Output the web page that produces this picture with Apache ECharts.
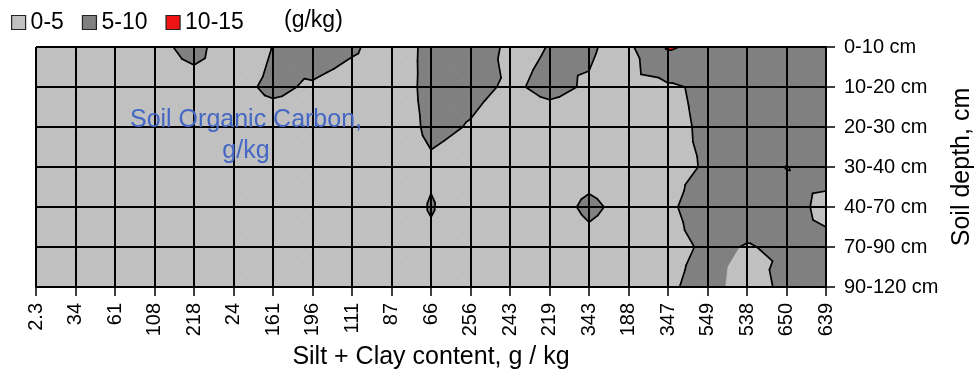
<!DOCTYPE html>
<html><head><meta charset="utf-8">
<script src="https://cdn.jsdelivr.net/npm/echarts@6/dist/echarts.min.js"></script>
<style>html,body{margin:0;padding:0;background:#fff}#c{width:974px;height:372px}</style>
</head><body><div id="c"></div>
<script>
// Categories
const xCategories = ['2.3','34','61','108','218','24','161','196','111','87','66','256','243','219','343','188','347','549','538','650','639'];
const depthCategories = ['0-10 cm','10-20 cm','20-30 cm','30-40 cm','40-70 cm','70-90 cm','90-120 cm'];
// Soil organic carbon (g/kg) at each depth, per silt+clay category
const soc_0_10   = [3.5,3.5,3.5,4.1,6.0,3.0,5.05,7.0,5.5,3.3,5.84,6.5,4.5,5.05,5.27,4.1,10.5,8.7,7.0,7.0,7.0];
const soc_10_20  = [3.5,3.5,3.5,3.5,3.78,4.1,5.6,4.6,3.5,3.5,5.8,5.52,4.74,5.4,4.82,3.8,4.39,5.81,7.0,7.0,7.0];
const soc_20_30  = [3.5,3.5,3.5,3.5,3.5,3.5,3.5,3.5,3.5,3.5,5.53,4.87,4.0,4.15,4.0,3.8,4.0,5.64,7.0,7.0,7.0];
const soc_30_40  = [3.5,3.5,3.5,3.5,3.5,3.5,3.5,3.5,3.5,3.5,4.6,4.0,3.8,3.8,4.19,3.8,4.2,5.25,6.5,4.95,5.75];
const soc_40_70  = [3.5,3.5,3.5,3.5,3.5,3.5,3.5,3.5,3.5,3.2,5.2,3.2,3.5,4.11,5.4,4.35,4.5,6.5,5.9,5.75,4.5];
const soc_70_90  = [3.5,3.5,3.5,3.5,3.5,3.5,3.5,3.5,3.5,3.5,4.4,3.5,3.5,3.5,4.35,3.8,4.2,5.4,4.9,5.3,5.5];
const soc_90_120 = [3.5,3.5,3.5,3.5,3.5,3.5,3.5,3.5,3.5,3.5,3.5,3.5,3.5,3.5,3.5,3.5,4.5,6.2,3.5,5.8,6.5];
// Legend bands
const bandLabels = ['0-5','5-10','10-15'];
const bandLows = [0, 5, 10];
const bandColors = ['#c0c0c0','#808080','#f01414'];
const contourLevels = [5, 10];

const grid = [soc_0_10, soc_10_20, soc_20_30, soc_30_40, soc_40_70, soc_70_90, soc_90_120];
const FONT = '"Liberation Sans", Arial, sans-serif';
const nCols = xCategories.length - 1, nRows = depthCategories.length - 1;
const cells = [];
for (let r = 0; r < nRows; r++) for (let c = 0; c < nCols; c++) cells.push([c, r]);

function triangles(c, r) {
  const a = grid[r][c], b = grid[r][c+1], d = grid[r+1][c+1], e = grid[r+1][c];
  const m = (a + b + d + e) / 4;
  const P0 = {u:0,w:0,v:a}, P1 = {u:1,w:0,v:b}, P2 = {u:1,w:1,v:d}, P3 = {u:0,w:1,v:e}, M = {u:.5,w:.5,v:m};
  return [[P0,P1,M],[P1,P2,M],[P2,P3,M],[P3,P0,M]];
}
function clipAbove(poly, level) {
  const out = [];
  for (let i = 0; i < poly.length; i++) {
    const P = poly[i], Q = poly[(i+1) % poly.length];
    const pin = P.v >= level, qin = Q.v >= level;
    if (pin) out.push(P);
    if (pin !== qin) {
      const t = (level - P.v) / (Q.v - P.v);
      out.push({u: P.u + t*(Q.u-P.u), w: P.w + t*(Q.w-P.w), v: level});
    }
  }
  return out;
}
function cellFrame(api, c, r) {
  const o = api.coord([c, r]);
  const px = api.coord([c+1, r])[0] - o[0];
  const py = api.coord([c, r+1])[1] - o[1];
  return p => [o[0] + p.u*px, o[1] + p.w*py];
}
function bandRender(bi) {
  return function (params, api) {
    const [c, r] = cells[params.dataIndex];
    const toPt = cellFrame(api, c, r);
    const children = [];
    triangles(c, r).forEach(tri => {
      const poly = bi === 0 ? tri : clipAbove(tri, bandLows[bi]);
      if (poly.length >= 3) {
        children.push({type:'polygon', shape:{points: poly.map(toPt)},
          style:{fill: bandColors[bi], stroke: bandColors[bi], lineWidth: 0.6}, silent: true});
      }
    });
    return {type:'group', children};
  };
}
function contourRender(params, api) {
  const [c, r] = cells[params.dataIndex];
  const toPt = cellFrame(api, c, r);
  const children = [];
  triangles(c, r).forEach(tri => {
    contourLevels.forEach(L => {
      const pts = [];
      for (let i = 0; i < 3; i++) {
        const P = tri[i], Q = tri[(i+1) % 3];
        if ((P.v - L) * (Q.v - L) < 0) {
          const t = (L - P.v) / (Q.v - P.v);
          pts.push(toPt({u: P.u + t*(Q.u-P.u), w: P.w + t*(Q.w-P.w)}));
        }
      }
      if (pts.length === 2) {
        children.push({type:'line', shape:{x1:pts[0][0], y1:pts[0][1], x2:pts[1][0], y2:pts[1][1]},
          style:{stroke:'#000', lineWidth:1.7, lineCap:'round'}, silent: true});
      }
    });
  });
  return {type:'group', children};
}

const series = bandLabels.map((name, bi) => ({
  name, type:'custom', data: cells, renderItem: bandRender(bi), z: 2 + bi,
  itemStyle:{color: bandColors[bi]}, encode:{x:0, y:1}, animation:false
}));
series.push({name:'contour', type:'custom', data: cells, renderItem: contourRender, z: 6,
  encode:{x:0, y:1}, animation:false});

const chart = echarts.init(document.getElementById('c'), null, {renderer:'canvas'});
chart.setOption({
  animation: false,
  textStyle: {fontFamily: FONT},
  title: {text:'(g/kg)', left: 284, top: 9, padding: 0,
    textStyle:{fontSize: 23, fontWeight:'normal', color:'#000', fontFamily: FONT}},
  legend: {data: bandLabels, left: 11, top: 11, padding: 0, itemWidth: 14, itemHeight: 14, itemGap: 18,
    icon:'rect', selectedMode: false,
    itemStyle:{borderColor:'#222', borderWidth:1.2},
    textStyle:{fontSize: 23, color:'#000', fontFamily: FONT}},
  grid: {left: 36, right: 148, top: 47, bottom: 85, containLabel: false, outerBoundsMode: 'none'},
  xAxis: {type:'category', data: xCategories, boundaryGap: false, z: 10,
    axisLine:{show:true, lineStyle:{color:'#000', width:2}},
    axisTick:{show:true, length:9, interval:0, lineStyle:{color:'#000', width:1.5}},
    axisLabel:{interval:0, rotate:90, margin:16, fontSize:20, color:'#000', fontFamily: FONT},
    splitLine:{show:true, interval:0, lineStyle:{color:'#000', width:2}},
    name:'Silt + Clay content, g / kg', nameLocation:'middle', nameGap:55,
    nameTextStyle:{fontSize:25, color:'#000', fontFamily: FONT}},
  yAxis: {type:'category', data: depthCategories, boundaryGap: false, inverse: true, position:'right', z: 10,
    axisLine:{show:true, lineStyle:{color:'#000', width:2}},
    axisTick:{show:true, length:9, interval:0, lineStyle:{color:'#000', width:1.5}},
    axisLabel:{interval:0, margin:18, fontSize:20, color:'#000', fontFamily: FONT},
    splitLine:{show:true, interval:0, lineStyle:{color:'#000', width:2}},
    name:'Soil depth, cm', nameLocation:'middle', nameRotate:90, nameGap:116,
    nameTextStyle:{fontSize:25, color:'#000', fontFamily: FONT}},
  graphic: [{type:'text', x: 246, y: 105, z: 100, silent: true,
    style:{text:'Soil Organic Carbon,\ng/kg', fill:'#4468c4', font:'25px ' + FONT, align:'center', lineHeight: 31}}],
  series
});
</script></body></html>
